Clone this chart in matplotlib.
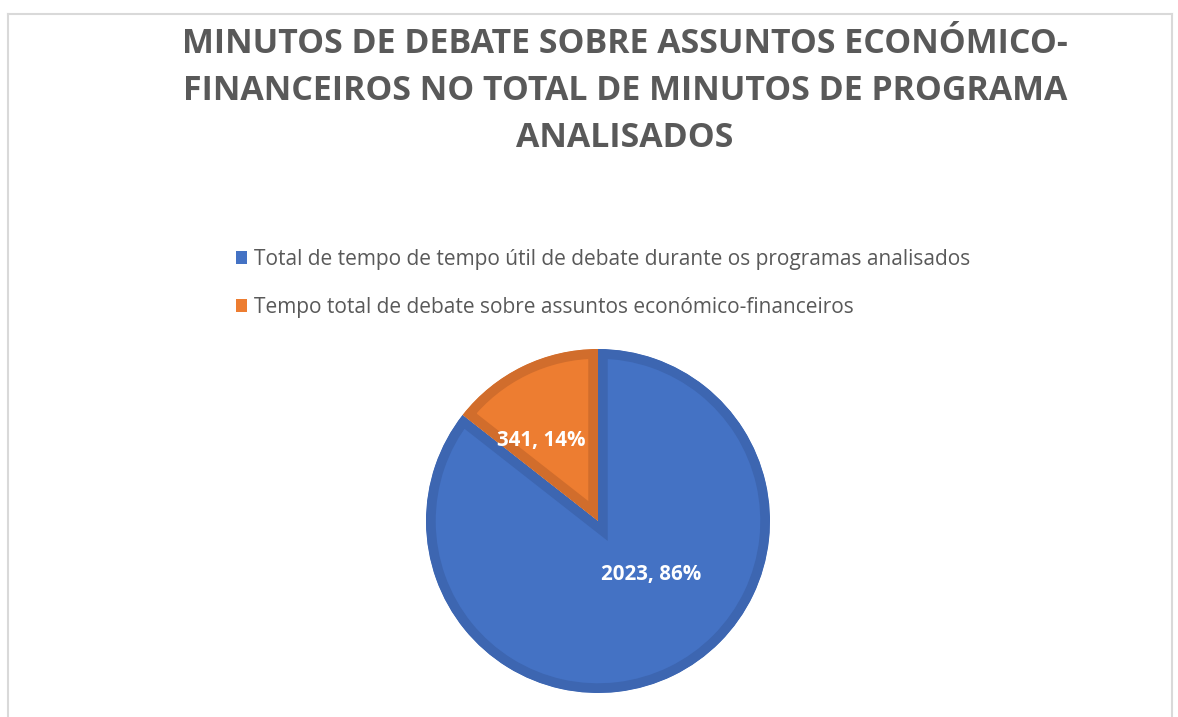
import matplotlib.pyplot as plt
from matplotlib.lines import Line2D
from matplotlib.patches import Patch, Wedge

# data
categories = ['Total de tempo de tempo útil de debate durante os programas analisados',
              'Tempo total de debate sobre assuntos económico-financeiros']
minutes = [2023, 341]
percents = [86, 14]
colors = ['#4472C4', '#ED7D31']
edge_colors = ['#3D66B1', '#D16D2C']
title = 'MINUTOS DE DEBATE SOBRE ASSUNTOS ECONÓMICO-\nFINANCEIROS NO TOTAL DE MINUTOS DE PROGRAMA\nANALISADOS'

plt.rcParams['font.family'] = ['Open Sans', 'DejaVu Sans']
W, H = 1178, 717
fig = plt.figure(figsize=(W / 100, H / 100), dpi=100)

# chart frame (light gray, bottom is cut off)
frame = '#D9D9D9'
fig.add_artist(Line2D([8 / W, 1172 / W], [1 - 14 / H, 1 - 14 / H], color=frame, lw=1.5))
fig.add_artist(Line2D([8 / W, 8 / W], [0, 1 - 14 / H], color=frame, lw=1.5))
fig.add_artist(Line2D([1172 / W, 1172 / W], [0, 1 - 14 / H], color=frame, lw=1.5))

fig.text(625 / W, 1 - 91 / H, title, ha='center', va='center', fontsize=24.4,
         fontweight='bold', color='#595959', linespacing=1.5)

# pie
cx, cy, r = 598, 521, 172
ax = fig.add_axes([(cx - r) / W, (H - cy - r) / H, 2 * r / W, 2 * r / H])
wedges, _ = ax.pie(minutes, colors=colors, startangle=90, counterclock=False, radius=1)
ax.set_xlim(-1, 1)
ax.set_ylim(-1, 1)
for w, ec in zip(wedges, edge_colors):
    w.set_edgecolor(ec)
    w.set_linewidth(14)
    # keep only the inner half of the stroke
    clip = Wedge(w.center, w.r, w.theta1, w.theta2, transform=ax.transData)
    w.set_clip_path(clip)
    w.set_clip_on(True)
ax.axis('off')

label_pos = [(0.31, -0.31), (-0.33, 0.47)]
for (x, y), m, p in zip(label_pos, minutes, percents):
    ax.text(x, y, f'{m}, {p}%', ha='center', va='center', color='white',
            fontsize=14.8, fontweight='bold')

# legend
handles = [Patch(facecolor=c, edgecolor='none') for c in colors]
fig.legend(handles, categories, loc='upper left', bbox_to_anchor=(217 / W, 1 - 230 / H),
           frameon=False, fontsize=15, labelcolor='#595959', handlelength=0.55,
           handleheight=0.55, handletextpad=0.35, labelspacing=1.3)

fig.savefig('out.png', dpi=100, facecolor='white')
